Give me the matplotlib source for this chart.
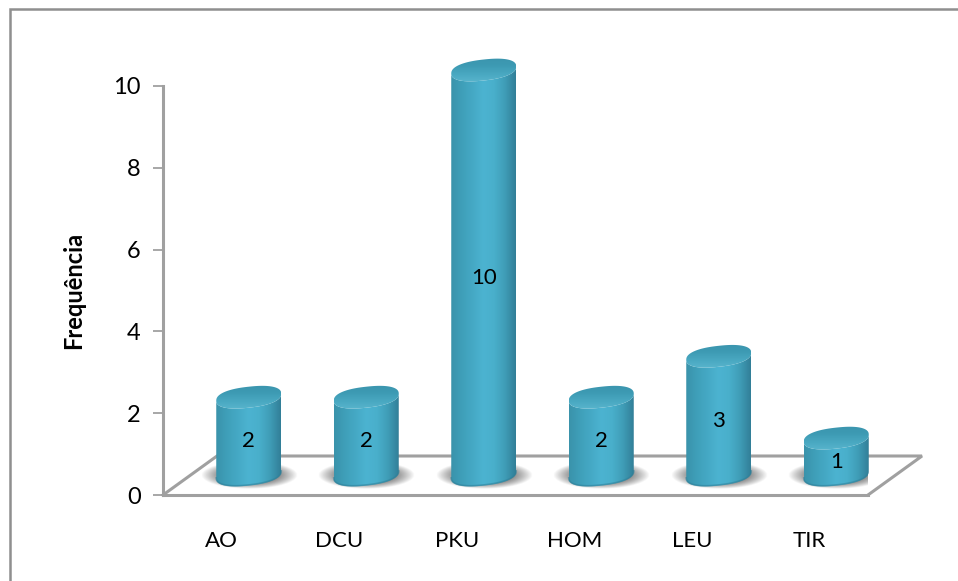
import numpy as np
import matplotlib
matplotlib.use("Agg")
import matplotlib.pyplot as plt
from matplotlib.colors import LinearSegmentedColormap
from matplotlib.lines import Line2D
from matplotlib.patches import PathPatch
from matplotlib.path import Path

categories = ["AO", "DCU", "PKU", "HOM", "LEU", "TIR"]
values = [2, 2, 10, 2, 3, 1]
y_ticks = [0, 2, 4, 6, 8, 10]

W, H = 958, 581
GRAY = "#a0a0a0"
plt.rcParams["font.family"] = ["Lato", "DejaVu Sans"]

fig = plt.figure(figsize=(W / 100, H / 100), dpi=100, facecolor="white")

# outer chart border: only the top and left edges fall inside the canvas
fig.add_artist(Line2D([10 / W, 10 / W, 1], [0, 1 - 9 / H, 1 - 9 / H], transform=fig.transFigure,
                      color="#8f8f8f", lw=1.8, solid_joinstyle="miter"))

L, R, T, B = 163, 868, 86, 495
ax = fig.add_axes([L / W, 1 - B / H, (R - L) / W, (B - T) / H])
ax.set_xlim(-0.5, 5.5)
ax.set_ylim(0, 10)
ax.patch.set_alpha(0)
for side in ("top", "right"):
    ax.spines[side].set_visible(False)
for side in ("left", "bottom"):
    ax.spines[side].set_color(GRAY)
    ax.spines[side].set_linewidth(2.2)

ax.set_yticks(y_ticks)
ax.set_xticks(range(len(categories)))
ax.set_xticklabels(categories)
ax.tick_params(axis="y", length=7, width=1.3, color=GRAY, labelsize=17, pad=9)
ax.tick_params(axis="x", length=0, labelsize=16, pad=26)
ax.set_ylabel("Frequência", fontsize=17, fontweight="bold", labelpad=20)

# pixel sizes expressed in data units
px = 6 / (R - L)
py = 10 / (B - T)
DEPTH_X = 54 * px
DEPTH_Y = 39 * py
SHIFT_X = 27 * px
RISE = 16 * py

# floor of the 3D plot
ax.add_line(Line2D([-0.5, -0.5 + DEPTH_X, 5.5 + DEPTH_X, 5.5], [0, DEPTH_Y, DEPTH_Y, 0],
                   color=GRAY, lw=2.2, clip_on=False, zorder=1, solid_joinstyle="miter"))

body_cmap = LinearSegmentedColormap.from_list(
    "body", ["#3a93ab", "#3f9fb9", "#45a9c5", "#4cb3d1", "#49afcb", "#3f9db7", "#327f98"])
top_cmap = LinearSegmentedColormap.from_list("top", ["#3b94ad", "#3d9ab3", "#4aa9c2", "#5cb7cf"])
shadow_cmap = LinearSegmentedColormap.from_list(
    "shadow", [(0.25, 0.25, 0.25, 0.0), (0.25, 0.25, 0.25, 0.72)])

HALF_W = 32.5 * px
ELL_H = 10.5 * py
TILT = 3.5 * py
BASE_Y = 20 * py


def ellipse(cx, cy, t):
    # slightly squared ellipse, which gives the cylinder its rounded shoulders
    c, s = np.cos(t), np.sin(t)
    c = np.sign(c) * np.abs(c) ** 0.85
    s = np.sign(s) * np.abs(s) ** 0.85
    return cx + HALF_W * c, cy + ELL_H * s + TILT * c


def clip_patch(x, y):
    pts = np.column_stack([x, y])
    patch = PathPatch(Path(np.r_[pts, pts[:1]], closed=True), transform=ax.transData,
                      fc="none", ec="none")
    ax.add_patch(patch)
    return patch


def clipped_image(data, extent, cmap, zorder, outline):
    img = ax.imshow(data, extent=extent, cmap=cmap, aspect="auto", origin="lower", zorder=zorder)
    img.set_clip_path(clip_patch(*outline))
    img.set_clip_box(fig.bbox)
    return img


def draw_cylinder(i, value):
    cx = i + SHIFT_X
    top_y = value + RISE

    # soft contact shadow
    gx, gy = np.meshgrid(np.linspace(-1, 1, 160), np.linspace(-1, 1, 80))
    falloff = np.clip(1.3 * (1 - (gx ** 2 + gy ** 2)), 0, 1)
    ax.imshow(falloff, extent=(cx - 48 * px, cx + 49 * px, BASE_Y - 14 * py, BASE_Y + 14 * py),
              cmap=shadow_cmap, aspect="auto", origin="lower", zorder=2, vmin=0, vmax=1)

    # body: lower arc of the base joined to the lower arc of the top
    t_low = np.linspace(np.pi, 2 * np.pi, 60)
    bx, by = ellipse(cx, BASE_Y, t_low)
    tx, ty = ellipse(cx, top_y, t_low[::-1])
    clipped_image(np.linspace(0, 1, 200).reshape(1, -1),
                  (cx - HALF_W, cx + HALF_W, BASE_Y - 2 * ELL_H, top_y + 2 * ELL_H),
                  body_cmap, 3, (np.r_[bx, tx], np.r_[by, ty]))

    # top face, lighter towards the front rim
    t = np.linspace(0, 2 * np.pi, 160)
    clipped_image(np.linspace(1, 0, 60).reshape(-1, 1),
                  (cx - HALF_W, cx + HALF_W, top_y - ELL_H - TILT, top_y + ELL_H + TILT),
                  top_cmap, 4, ellipse(cx, top_y, t))

    # darker band along the foot of the body
    ax.add_line(Line2D(bx, by + 0.6 * py, color="#2f7f98", lw=1.2, alpha=0.55, zorder=4))

    # value label halfway up the visible body
    ax.text(cx, (top_y + BASE_Y - ELL_H) / 2, str(value), ha="center", va="center",
            fontsize=16, color="black", zorder=5)


for i, v in enumerate(values):
    draw_cylinder(i, v)

ax.set_xlim(-0.5, 5.5)
ax.set_ylim(0, 10)
fig.savefig("out.png", dpi=100, facecolor="white")
